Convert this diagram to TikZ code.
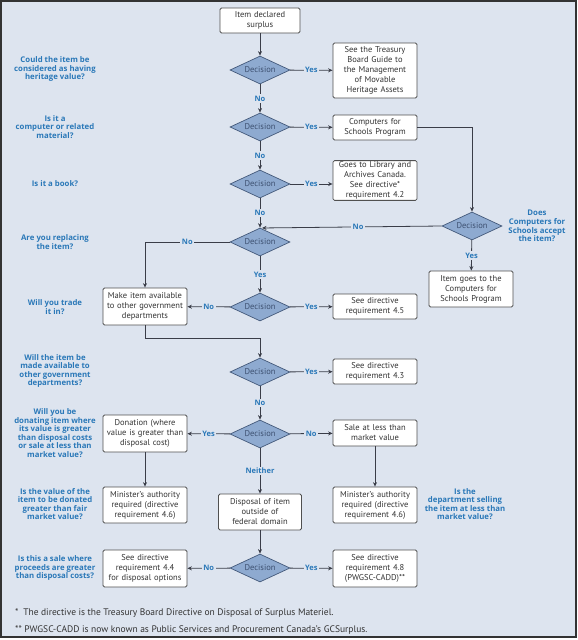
\documentclass[tikz,border=0pt]{standalone}
\usepackage{fontspec}
\setmainfont{PT Sans}
\newfontfamily\qfont{Open Sans}
\usetikzlibrary{shapes.geometric,arrows.meta}
\definecolor{bgc}{HTML}{DDE4EF}
\definecolor{qblue}{HTML}{2A78B8}
\definecolor{dfill}{HTML}{8EAAD0}
\definecolor{ddraw}{HTML}{44597A}
\definecolor{dtext}{HTML}{3D5070}
\definecolor{boxdraw}{HTML}{505050}
\definecolor{linec}{HTML}{3A3D48}
\definecolor{txt}{HTML}{333333}
\begin{document}
\begin{tikzpicture}[x=1pt,y=-1pt,
  box/.style={draw=boxdraw,fill=white,rounded corners=1.5pt,line width=0.8pt,align=center,
    font=\fontsize{8.5}{10}\selectfont,text=txt,inner sep=1pt,minimum width=84pt,text width=82pt},
  dec/.style={diamond,draw=ddraw,fill=dfill,line width=0.7pt,aspect=2.1,inner sep=0pt,
    minimum width=60pt,minimum height=28pt,font=\fontsize{8.5}{10}\selectfont,text=dtext},
  ques/.style={align=center,font=\qfont\fontsize{7.8}{8.6}\selectfont\bfseries,text=qblue,inner sep=0pt},
  lab/.style={font=\qfont\fontsize{7.5}{9}\selectfont\bfseries,text=qblue,fill=bgc,inner sep=1.5pt},
  conn/.style={draw=linec,line width=0.8pt,-{Stealth[length=4.5pt,width=4pt]}},
  foot/.style={anchor=west,font=\fontsize{9.5}{11}\selectfont,text=txt,inner sep=0pt}]
\useasboundingbox (0,0) rectangle (578,640);
\fill[white] (0,0) rectangle (578,640);
\draw[fill=bgc,draw=black!80,line width=1.6pt] (1,1) rectangle (576,637);

% main column
\node[box,minimum width=80pt,text width=78pt,minimum height=25pt] (top) at (260,20.5) {Item declared\\surplus};
\node[dec] (d1) at (260,70) {Decision};
\node[dec] (d2) at (260,127) {Decision};
\node[dec] (d3) at (260,184) {Decision};
\node[dec] (d4) at (260,242) {Decision};
\node[dec] (d5) at (260,307) {Decision};
\node[dec] (d6) at (260,372) {Decision};
\node[dec] (d7) at (260,434) {Decision};
\node[box,minimum width=83pt,text width=80pt,minimum height=36pt] (disp) at (260,512) {Disposal of item\\outside of\\federal domain};
\node[dec] (d8) at (260,568) {Decision};

% right column
\node[box,minimum height=55pt] (tb) at (375,70.5) {See the Treasury\\Board Guide to\\the Management\\of Movable\\Heritage Assets};
\node[box,minimum height=25pt] (cfs) at (375,127.5) {Computers for\\Schools Program};
\node[box,minimum height=37pt] (lib) at (375,180.5) {Goes to Library and\\Archives Canada.\\See directive*\\requirement 4.2};
\node[box,minimum height=25pt] (s45) at (375,306.5) {See directive\\requirement 4.5};
\node[box,minimum height=25pt] (s43) at (375,371.5) {See directive\\requirement 4.3};
\node[box,minimum height=26pt] (sale) at (375,433) {Sale at less than\\market value};
\node[box,minimum height=36pt] (minr) at (375,505) {Minister's authority\\required (directive\\requirement 4.6)};
\node[box,minimum height=37pt] (s48) at (375,568.5) {See directive\\requirement 4.8\\(PWGSC-CADD)**};

% far right
\node[dec] (cfsd) at (472,226) {Decision};
\node[box,minimum height=36pt] (ig) at (471,289) {Item goes to the\\Computers for\\Schools Program};

% left column
\node[box,minimum height=37pt] (mk) at (145,306.5) {Make item available\\to other government\\departments};
\node[box,minimum height=37pt] (don) at (145,433.5) {Donation (where\\value is greater than\\disposal cost)};
\node[box,minimum height=36pt] (minl) at (145,505) {Minister's authority\\required (directive\\requirement 4.6)};
\node[box,minimum height=37pt] (s44) at (145,568.5) {See directive\\requirement 4.4\\for disposal options};

% questions
\node[ques] (q1) at (55,69) {Could the item be\\considered as having\\heritage value?};
\node[ques] (q2) at (55,127) {Is it a\\computer or related\\material?};
\node[ques] (q3) at (55,184) {Is it a book?};
\node[ques] (q4) at (55,242) {Are you replacing\\the item?};
\node[ques] (q5) at (55,307) {Will you trade\\it in?};
\node[ques] (q6) at (55,371) {Will the item be\\made available to\\other government\\departments?};
\node[ques] (q7) at (55,433) {Will you be\\donating item where\\its value is greater\\than disposal costs\\or sale at less than\\market value?};
\node[ques] (q8) at (55,504) {Is the value of the\\item to be donated\\greater than fair\\market value?};
\node[ques] (q9) at (55,568) {Is this a sale where\\proceeds are greater\\than disposal costs?};
\node[ques] (q10) at (537,226) {Does\\Computers for\\Schools accept\\the item?};
\node[ques] (q11) at (465,504) {Is the\\department selling\\the item at less than\\market value?};

% footnotes
\node[foot] (f1) at (15,613) {*\enspace The directive is the Treasury Board Directive on Disposal of Surplus Materiel.};
\node[foot] (f2) at (15,630) {** PWGSC-CADD is now known as Public Services and Procurement Canada's GCSurplus.};

% connectors
\draw[conn] (top) -- (d1);
\draw[conn] (d1) -- node[lab]{Yes} (tb);
\draw[conn] (d1) -- node[lab]{No} (d2);
\draw[conn] (d2) -- node[lab]{Yes} (cfs);
\draw[conn] (d2) -- node[lab]{No} (d3);
\draw[conn] (d3.east) -- node[lab]{Yes} (d3.east -| lib.west);
\draw[conn] (d3) -- node[lab]{No} (d4);
\draw[conn] (cfs.east) -| (cfsd.north);
\draw[conn,shorten >=2pt] (cfsd.west) -- node[lab,pos=0.46]{No} ([yshift=-2pt]cfsd.west -| d4.north);
\draw[conn] (cfsd) -- node[lab]{Yes} (ig);
\draw[conn] (d4.west) -| node[lab,pos=0.25]{No} (mk.north);
\draw[conn] (d4) -- node[lab]{Yes} (d5);
\draw[conn] (d5) -- node[lab]{No} (mk);
\draw[conn] (d5) -- node[lab]{Yes} (s45);
\draw[conn] (mk.south) -- ++(0,13) -| (d6.north);
\draw[conn] (d6) -- node[lab]{Yes} (s43);
\draw[conn] (d6) -- node[lab]{No} (d7);
\draw[conn] (d7) -- node[lab]{Yes} (don);
\draw[conn] (d7) -- node[lab]{No} (sale);
\draw[conn] (d7) -- node[lab]{Neither} (disp);
\draw[conn] (don) -- (minl);
\draw[conn] (sale) -- (minr);
\draw[conn] (disp) -- (d8);
\draw[conn] (d8) -- node[lab]{No} (s44);
\draw[conn] (d8) -- node[lab]{Yes} (s48);
\end{tikzpicture}
\end{document}
